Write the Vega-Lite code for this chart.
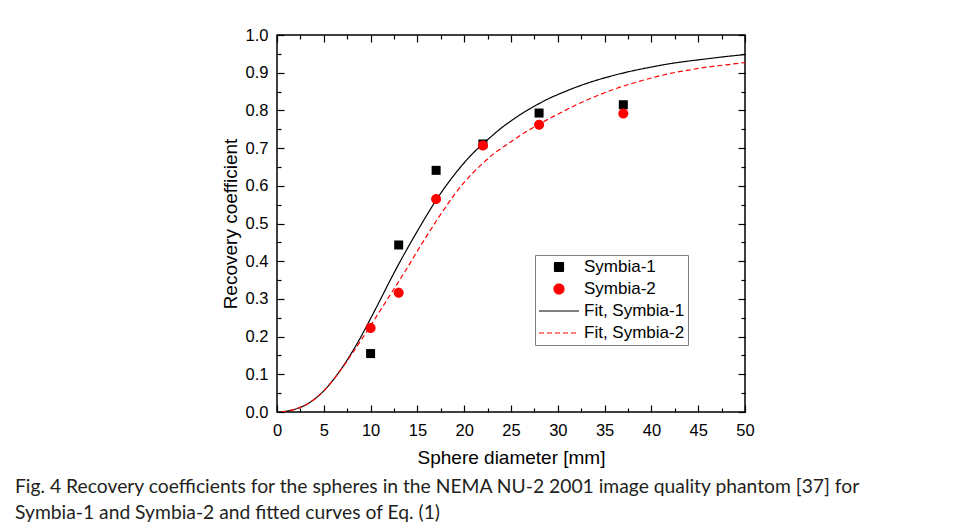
{
  "$schema": "https://vega.github.io/schema/vega-lite/v6.json",
  "width": 468,
  "height": 377,
  "autosize": {"type": "none"},
  "padding": {"left": 277, "top": 35, "right": 211, "bottom": 117},
  "background": "white",
  "title": {
    "text": ["Fig. 4  Recovery coefficients for the spheres in the NEMA NU-2 2001 image quality phantom [37] for", "Symbia-1 and Symbia-2 and fitted curves of Eq. (1)"],
    "orient": "bottom",
    "anchor": "start",
    "frame": "group",
    "dx": -262,
    "offset": 10,
    "font": "Lato",
    "fontSize": 19.3,
    "fontWeight": "normal",
    "color": "#231f20",
    "lineHeight": 26,
    "baseline": "top"
  },
  "datasets": {
    "fits": [
      {"series": "Fit, Symbia-1", "d": 0.5, "rc": 0.001},
      {"series": "Fit, Symbia-1", "d": 1, "rc": 0.002},
      {"series": "Fit, Symbia-1", "d": 2, "rc": 0.008},
      {"series": "Fit, Symbia-1", "d": 3, "rc": 0.018},
      {"series": "Fit, Symbia-1", "d": 4, "rc": 0.034},
      {"series": "Fit, Symbia-1", "d": 5, "rc": 0.056},
      {"series": "Fit, Symbia-1", "d": 6, "rc": 0.085},
      {"series": "Fit, Symbia-1", "d": 7, "rc": 0.119},
      {"series": "Fit, Symbia-1", "d": 8, "rc": 0.158},
      {"series": "Fit, Symbia-1", "d": 9, "rc": 0.201},
      {"series": "Fit, Symbia-1", "d": 10, "rc": 0.248},
      {"series": "Fit, Symbia-1", "d": 11, "rc": 0.296},
      {"series": "Fit, Symbia-1", "d": 12, "rc": 0.345},
      {"series": "Fit, Symbia-1", "d": 13, "rc": 0.392},
      {"series": "Fit, Symbia-1", "d": 14, "rc": 0.437},
      {"series": "Fit, Symbia-1", "d": 15, "rc": 0.480},
      {"series": "Fit, Symbia-1", "d": 16, "rc": 0.522},
      {"series": "Fit, Symbia-1", "d": 17, "rc": 0.562},
      {"series": "Fit, Symbia-1", "d": 18, "rc": 0.598},
      {"series": "Fit, Symbia-1", "d": 19, "rc": 0.631},
      {"series": "Fit, Symbia-1", "d": 20, "rc": 0.661},
      {"series": "Fit, Symbia-1", "d": 21, "rc": 0.688},
      {"series": "Fit, Symbia-1", "d": 22, "rc": 0.711},
      {"series": "Fit, Symbia-1", "d": 23, "rc": 0.733},
      {"series": "Fit, Symbia-1", "d": 24, "rc": 0.754},
      {"series": "Fit, Symbia-1", "d": 25, "rc": 0.772},
      {"series": "Fit, Symbia-1", "d": 26, "rc": 0.789},
      {"series": "Fit, Symbia-1", "d": 27, "rc": 0.804},
      {"series": "Fit, Symbia-1", "d": 28, "rc": 0.818},
      {"series": "Fit, Symbia-1", "d": 29, "rc": 0.831},
      {"series": "Fit, Symbia-1", "d": 30, "rc": 0.842},
      {"series": "Fit, Symbia-1", "d": 32, "rc": 0.862},
      {"series": "Fit, Symbia-1", "d": 34, "rc": 0.879},
      {"series": "Fit, Symbia-1", "d": 36, "rc": 0.893},
      {"series": "Fit, Symbia-1", "d": 38, "rc": 0.905},
      {"series": "Fit, Symbia-1", "d": 40, "rc": 0.915},
      {"series": "Fit, Symbia-1", "d": 42, "rc": 0.924},
      {"series": "Fit, Symbia-1", "d": 44, "rc": 0.931},
      {"series": "Fit, Symbia-1", "d": 46, "rc": 0.937},
      {"series": "Fit, Symbia-1", "d": 48, "rc": 0.943},
      {"series": "Fit, Symbia-1", "d": 50, "rc": 0.948},
      {"series": "Fit, Symbia-2", "d": 0.5, "rc": 0.001},
      {"series": "Fit, Symbia-2", "d": 1, "rc": 0.002},
      {"series": "Fit, Symbia-2", "d": 2, "rc": 0.008},
      {"series": "Fit, Symbia-2", "d": 3, "rc": 0.018},
      {"series": "Fit, Symbia-2", "d": 4, "rc": 0.034},
      {"series": "Fit, Symbia-2", "d": 5, "rc": 0.056},
      {"series": "Fit, Symbia-2", "d": 6, "rc": 0.085},
      {"series": "Fit, Symbia-2", "d": 7, "rc": 0.118},
      {"series": "Fit, Symbia-2", "d": 8, "rc": 0.154},
      {"series": "Fit, Symbia-2", "d": 9, "rc": 0.191},
      {"series": "Fit, Symbia-2", "d": 10, "rc": 0.229},
      {"series": "Fit, Symbia-2", "d": 11, "rc": 0.268},
      {"series": "Fit, Symbia-2", "d": 12, "rc": 0.307},
      {"series": "Fit, Symbia-2", "d": 13, "rc": 0.346},
      {"series": "Fit, Symbia-2", "d": 14, "rc": 0.386},
      {"series": "Fit, Symbia-2", "d": 15, "rc": 0.427},
      {"series": "Fit, Symbia-2", "d": 16, "rc": 0.467},
      {"series": "Fit, Symbia-2", "d": 17, "rc": 0.506},
      {"series": "Fit, Symbia-2", "d": 18, "rc": 0.543},
      {"series": "Fit, Symbia-2", "d": 19, "rc": 0.578},
      {"series": "Fit, Symbia-2", "d": 20, "rc": 0.609},
      {"series": "Fit, Symbia-2", "d": 21, "rc": 0.636},
      {"series": "Fit, Symbia-2", "d": 22, "rc": 0.660},
      {"series": "Fit, Symbia-2", "d": 23, "rc": 0.682},
      {"series": "Fit, Symbia-2", "d": 24, "rc": 0.700},
      {"series": "Fit, Symbia-2", "d": 25, "rc": 0.717},
      {"series": "Fit, Symbia-2", "d": 26, "rc": 0.734},
      {"series": "Fit, Symbia-2", "d": 27, "rc": 0.749},
      {"series": "Fit, Symbia-2", "d": 28, "rc": 0.763},
      {"series": "Fit, Symbia-2", "d": 29, "rc": 0.777},
      {"series": "Fit, Symbia-2", "d": 30, "rc": 0.790},
      {"series": "Fit, Symbia-2", "d": 32, "rc": 0.815},
      {"series": "Fit, Symbia-2", "d": 34, "rc": 0.837},
      {"series": "Fit, Symbia-2", "d": 36, "rc": 0.856},
      {"series": "Fit, Symbia-2", "d": 38, "rc": 0.872},
      {"series": "Fit, Symbia-2", "d": 40, "rc": 0.886},
      {"series": "Fit, Symbia-2", "d": 42, "rc": 0.898},
      {"series": "Fit, Symbia-2", "d": 44, "rc": 0.907},
      {"series": "Fit, Symbia-2", "d": 46, "rc": 0.915},
      {"series": "Fit, Symbia-2", "d": 48, "rc": 0.921},
      {"series": "Fit, Symbia-2", "d": 50, "rc": 0.927}
    ],
    "points": [
      {"series": "Symbia-1", "d": 10, "rc": 0.155},
      {"series": "Symbia-1", "d": 13, "rc": 0.443},
      {"series": "Symbia-1", "d": 17, "rc": 0.641},
      {"series": "Symbia-1", "d": 22, "rc": 0.711},
      {"series": "Symbia-1", "d": 28, "rc": 0.793},
      {"series": "Symbia-1", "d": 37, "rc": 0.815},
      {"series": "Symbia-2", "d": 10, "rc": 0.223},
      {"series": "Symbia-2", "d": 13, "rc": 0.316},
      {"series": "Symbia-2", "d": 17, "rc": 0.565},
      {"series": "Symbia-2", "d": 22, "rc": 0.707},
      {"series": "Symbia-2", "d": 28, "rc": 0.762},
      {"series": "Symbia-2", "d": 37, "rc": 0.792}
    ]
  },
  "layer": [
    {
      "data": {"name": "fits"},
      "transform": [{"filter": "datum.series === 'Fit, Symbia-1'"}],
      "mark": {"type": "line", "interpolate": "monotone", "strokeWidth": 1.2, "clip": true},
      "encoding": {
        "x": {
          "field": "d", "type": "quantitative",
          "scale": {"domain": [0, 50], "nice": false, "zero": false},
          "axis": {
            "orient": "bottom",
            "title": "Sphere diameter [mm]",
            "values": [0, 5, 10, 15, 20, 25, 30, 35, 40, 45, 50],
            "format": "d",
            "tickSize": -7,
            "labelPadding": 17,
            "titlePadding": 10,
            "labelFlush": false
          }
        },
        "y": {
          "field": "rc", "type": "quantitative",
          "scale": {"domain": [0, 1], "nice": false},
          "axis": {
            "orient": "left",
            "title": "Recovery coefficient",
            "values": [0, 0.1, 0.2, 0.3, 0.4, 0.5, 0.6, 0.7, 0.8, 0.9, 1],
            "format": ".1f",
            "tickSize": -7,
            "labelPadding": 16,
            "titlePadding": 5,
            "labelFlush": false
          }
        },
        "color": {
          "field": "series", "type": "nominal",
          "scale": {"domain": ["Symbia-1", "Symbia-2", "Fit, Symbia-1", "Fit, Symbia-2"], "range": ["#000000", "#ff0000", "#000000", "#ff0000"]},
          "legend": {"title": null}
        },
        "strokeDash": {
          "field": "series", "type": "nominal",
          "scale": {"domain": ["Symbia-1", "Symbia-2", "Fit, Symbia-1", "Fit, Symbia-2"], "range": [[1, 0], [1, 0], [1, 0], [5, 3]]},
          "legend": {"title": null}
        }
      }
    },
    {
      "data": {"name": "fits"},
      "transform": [{"filter": "datum.series === 'Fit, Symbia-2'"}],
      "mark": {"type": "line", "interpolate": "monotone", "strokeWidth": 1.2, "clip": true},
      "encoding": {
        "x": {
          "field": "d", "type": "quantitative",
          "axis": {
            "orient": "top",
            "title": null,
            "labels": false,
            "values": [0, 5, 10, 15, 20, 25, 30, 35, 40, 45, 50],
            "tickSize": -7
          }
        },
        "y": {
          "field": "rc", "type": "quantitative",
          "axis": {
            "orient": "right",
            "title": null,
            "labels": false,
            "values": [0, 0.1, 0.2, 0.3, 0.4, 0.5, 0.6, 0.7, 0.8, 0.9, 1],
            "tickSize": -7
          }
        },
        "color": {"field": "series", "type": "nominal", "legend": {"title": null}},
        "strokeDash": {"field": "series", "type": "nominal", "legend": {"title": null}}
      }
    },
    {
      "data": {"name": "points"},
      "transform": [{"filter": "datum.series === 'Symbia-1'"}],
      "mark": {"type": "point", "filled": true, "opacity": 1, "size": 1600},
      "encoding": {
        "x": {
          "field": "d", "type": "quantitative",
          "axis": {
            "orient": "bottom",
            "title": null,
            "labels": false,
            "values": [2.5, 7.5, 12.5, 17.5, 22.5, 27.5, 32.5, 37.5, 42.5, 47.5],
            "tickSize": -4
          }
        },
        "y": {
          "field": "rc", "type": "quantitative",
          "axis": {
            "orient": "left",
            "title": null,
            "labels": false,
            "values": [0.05, 0.15, 0.25, 0.35, 0.45, 0.55, 0.65, 0.75, 0.85, 0.95],
            "tickSize": -4
          }
        },
        "color": {"field": "series", "type": "nominal", "legend": {"title": null}},
        "shape": {
          "field": "series", "type": "nominal",
          "scale": {
            "domain": ["Symbia-1", "Symbia-2", "Fit, Symbia-1", "Fit, Symbia-2"],
            "range": [
              "M-0.225,-0.225H0.225V0.225H-0.225Z",
              "M0.25,0A0.25,0.25 0 1,1 -0.25,0A0.25,0.25 0 1,1 0.25,0Z",
              "M-1,0H1",
              "M-1,0H1"
            ]
          },
          "legend": {"title": null}
        }
      }
    },
    {
      "data": {"name": "points"},
      "transform": [{"filter": "datum.series === 'Symbia-2'"}],
      "mark": {"type": "point", "filled": true, "opacity": 1, "size": 1600},
      "encoding": {
        "x": {
          "field": "d", "type": "quantitative",
          "axis": {
            "orient": "top",
            "title": null,
            "labels": false,
            "values": [2.5, 7.5, 12.5, 17.5, 22.5, 27.5, 32.5, 37.5, 42.5, 47.5],
            "tickSize": -4
          }
        },
        "y": {
          "field": "rc", "type": "quantitative",
          "axis": {
            "orient": "right",
            "title": null,
            "labels": false,
            "values": [0.05, 0.15, 0.25, 0.35, 0.45, 0.55, 0.65, 0.75, 0.85, 0.95],
            "tickSize": -4
          }
        },
        "color": {"field": "series", "type": "nominal", "legend": {"title": null}},
        "shape": {"field": "series", "type": "nominal", "legend": {"title": null}}
      }
    }
  ],
  "resolve": {"axis": {"x": "independent", "y": "independent"}},
  "config": {
    "view": {"stroke": "#000000", "strokeWidth": 1.5},
    "axis": {
      "grid": false,
      "domain": false,
      "tickColor": "#000000",
      "tickWidth": 1.2,
      "labelFont": "Liberation Sans",
      "labelFontSize": 16.5,
      "labelColor": "#000000",
      "titleFont": "Liberation Sans",
      "titleFontSize": 19,
      "titleFontWeight": "normal",
      "titleColor": "#000000"
    },
    "legend": {
      "orient": "none",
      "legendX": 258,
      "legendY": 220,
      "padding": 3,
      "strokeColor": "#808080",
      "fillColor": "#ffffff",
      "symbolSize": 1600,
      "clipHeight": 18,
      "rowPadding": 4,
      "labelOffset": 4,
      "labelFont": "Liberation Sans",
      "labelFontSize": 17,
      "labelColor": "#000000",
      "symbolStrokeWidth": 1.2,
      "symbolOpacity": 1
    }
  }
}
